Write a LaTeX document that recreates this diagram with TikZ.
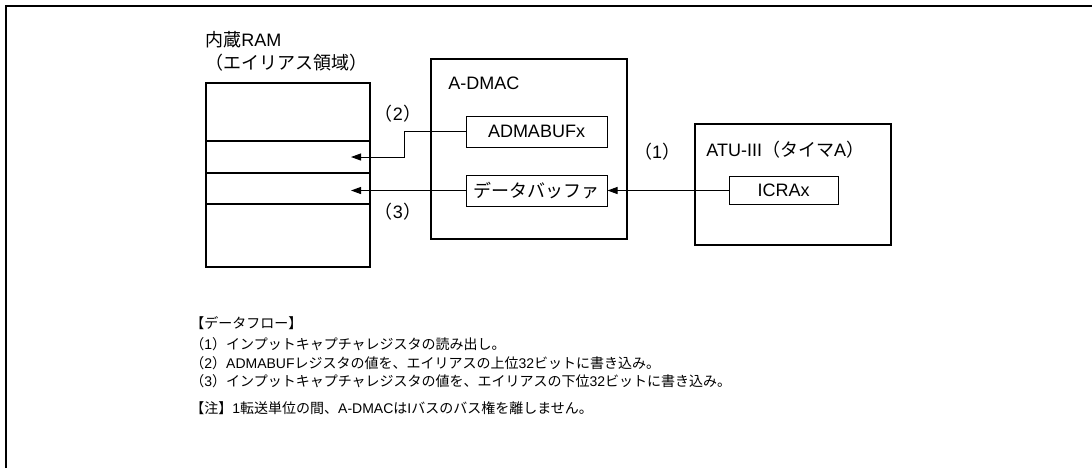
\documentclass[tikz,border=0pt]{standalone}
\usepackage{fontspec}
\setmainfont{Liberation Sans}
\newfontfamily\jp{Noto Sans CJK JP}
\newcommand\pnum[1]{{\jp （}#1{\jp ）}}
\usetikzlibrary{positioning,calc,arrows.meta}

\begin{document}
\begin{tikzpicture}[x=0.5pt,y=-0.5pt,font=\fontsize{9}{11.5}\selectfont,
    blk/.style={draw,line width=1pt,inner sep=0pt,outer sep=0pt,minimum width=98pt},
    cell/.style={draw,line width=1pt,inner sep=0pt,outer sep=0pt,minimum width=82pt},
    reg/.style={draw,line width=0.5pt,inner sep=0pt,minimum height=15.5pt},
    lbl/.style={inner sep=0pt,anchor=west},
    txt/.style={lbl,font=\fontsize{7}{8.5}\selectfont},
    arr/.style={line width=0.5pt,-{Triangle[length=5pt,width=3.5pt]}}]
  \useasboundingbox (0,0) rectangle (1092,468);
  \draw[line width=1pt] (6,468) -- (6,6) -- (1092,6);

  % alias area of the built-in RAM
  \node[lbl,align=left] (ram) at (205,51) {{\jp 内蔵}RAM\\{\jp （エイリアス領域）}};
  \node[cell,minimum height=29pt,anchor=north west] (c1) at (206,83) {};
  \node[cell,minimum height=16pt,below=0pt of c1] (c2) {};
  \node[cell,minimum height=15.5pt,below=0pt of c2] (c3) {};
  \node[cell,minimum height=31.5pt,below=0pt of c3] (c4) {};

  % A-DMAC
  \node[blk,minimum height=90pt] (dmac) at (529,149) {};
  \node[lbl] (dmacl) at (448,83) {A-DMAC};
  \node[reg,minimum width=70.5pt] (abuf) at (536.5,131.5) {ADMABUFx};
  \node[reg,minimum width=70.5pt] (dbuf) at (536.5,190.5) {\jp データバッファ};

  % ATU-III
  \node[blk,minimum height=60.5pt] (atu) at (793,184.5) {};
  \node[lbl] (atul) at (706,150) {ATU-III{\jp （タイマ}A{\jp ）}};
  \node[reg,minimum width=54.5pt,minimum height=14pt] (icr) at (783.5,190.5) {ICRAx};

  % transfers
  \draw[arr] (icr.west) -- (dbuf.east);
  \draw[arr] (abuf.west) -- ++(-61,0) |- ($(c2.east)+(-19,0)$);
  \draw[arr] (dbuf.west) -- ($(dbuf.west -| c3.east)+(-19,0)$);
  \node (n1) at (657,152) {\pnum{1}};
  \node (n2) at (398,114) {\pnum{2}};
  \node (n3) at (398,212) {\pnum{3}};

  % notes
  \node[txt] (flow) at (190,323) {\jp 【データフロー】};
  \node[txt] (f1) at (190,344) {\pnum{1}{\jp インプットキャプチャレジスタの読み出し。}};
  \node[txt] (f2) at (190,363) {\pnum{2}ADMABUF{\jp レジスタの値を、エイリアスの上位}32{\jp ビットに書き込み。}};
  \node[txt] (f3) at (190,381) {\pnum{3}{\jp インプットキャプチャレジスタの値を、エイリアスの下位}32{\jp ビットに書き込み。}};
  \node[txt] (note) at (190,408) {{\jp 【注】}1{\jp 転送単位の間、}A-DMAC{\jp は}I{\jp バスのバス権を離しません。}};
\end{tikzpicture}
\end{document}
